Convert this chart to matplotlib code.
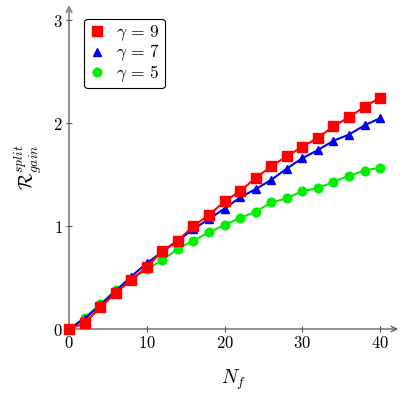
import matplotlib
matplotlib.use("Agg")
import matplotlib.pyplot as plt
from matplotlib.lines import Line2D

plt.rcParams['mathtext.fontset'] = 'cm'
plt.rcParams['font.family'] = 'serif'
plt.rcParams['font.serif'] = ['cmr10', 'DejaVu Serif']
plt.rcParams['axes.formatter.use_mathtext'] = True

nf = [0, 2, 4, 6, 8, 10, 12, 14, 16, 18, 20, 22, 24, 26, 28, 30, 32, 34, 36, 38, 40]
gamma9 = [0, 0.055, 0.21, 0.35, 0.48, 0.60, 0.76, 0.86, 1.00, 1.11, 1.24, 1.34, 1.47, 1.58, 1.68, 1.77, 1.86, 1.97, 2.06, 2.16, 2.25]
gamma7 = [0, 0.10, 0.23, 0.37, 0.51, 0.64, 0.75, 0.86, 0.97, 1.07, 1.17, 1.28, 1.36, 1.45, 1.56, 1.66, 1.74, 1.83, 1.89, 1.98, 2.05]
gamma5 = [0, 0.11, 0.24, 0.38, 0.48, 0.58, 0.67, 0.78, 0.86, 0.94, 1.01, 1.08, 1.14, 1.23, 1.27, 1.34, 1.37, 1.43, 1.49, 1.54, 1.57]
labels = [r'$\gamma\,=\,9$', r'$\gamma\,=\,7$', r'$\gamma\,=\,5$']
xticks = [0, 10, 20, 30, 40]
yticks = [0, 1, 2, 3]

fig = plt.figure(figsize=(4.0, 3.96), dpi=100)
ax = fig.add_axes([69/400, 67/396, 329/400, 324/396])
ax.set_xlim(0, 42.3)
ax.set_ylim(0, 3.15)

ax.plot(nf, gamma5, color='#00ee00', lw=1.5, marker='o', ms=6.2, clip_on=False, zorder=3)
ax.plot(nf, gamma7, color='#0000ee', lw=1.5, marker='^', ms=6.2, clip_on=False, zorder=4)
ax.plot(nf, gamma9, color='#ff0000', lw=1.5, marker='s', ms=7, clip_on=False, zorder=5)

for s in ax.spines.values():
    s.set_visible(False)
axc = '#555555'
ax.annotate('', xy=(1, 0), xytext=(0, 0), xycoords='axes fraction',
            arrowprops=dict(arrowstyle='->', color=axc, lw=0.9, shrinkA=0, shrinkB=0), zorder=1)
ax.annotate('', xy=(0, 1), xytext=(0, 0), xycoords='axes fraction',
            arrowprops=dict(arrowstyle='->', color='#888888', lw=1.3, shrinkA=0, shrinkB=0), zorder=1)

ax.set_xticks(xticks)
ax.set_yticks(yticks)
ax.set_xticklabels([f'${v}$' for v in xticks])
ax.set_yticklabels([f'${v}$' for v in yticks])
ax.tick_params(direction='inout', length=5, width=0.8, color=axc, labelsize=12, pad=2)

ax.set_xlabel(r'$N_f$', fontsize=14, labelpad=12)
ax.set_ylabel(r'$\mathcal{R}_{gain}^{split}$', fontsize=14, labelpad=6)

handles = [
    Line2D([], [], ls='none', marker='s', color='#ff0000', ms=7),
    Line2D([], [], ls='none', marker='^', color='#0000ee', ms=6.2),
    Line2D([], [], ls='none', marker='o', color='#00ee00', ms=6.2),
]
leg = ax.legend(handles, labels, loc='upper left', bbox_to_anchor=(0.046, 0.957),
                borderaxespad=0, fontsize=12.5, handlelength=1.0, handletextpad=0.6,
                labelspacing=0.0, borderpad=0.25, frameon=True, fancybox=True, framealpha=1)
leg.get_frame().set_edgecolor('black')
leg.get_frame().set_linewidth(0.8)

fig.savefig('out.png', dpi=100)
